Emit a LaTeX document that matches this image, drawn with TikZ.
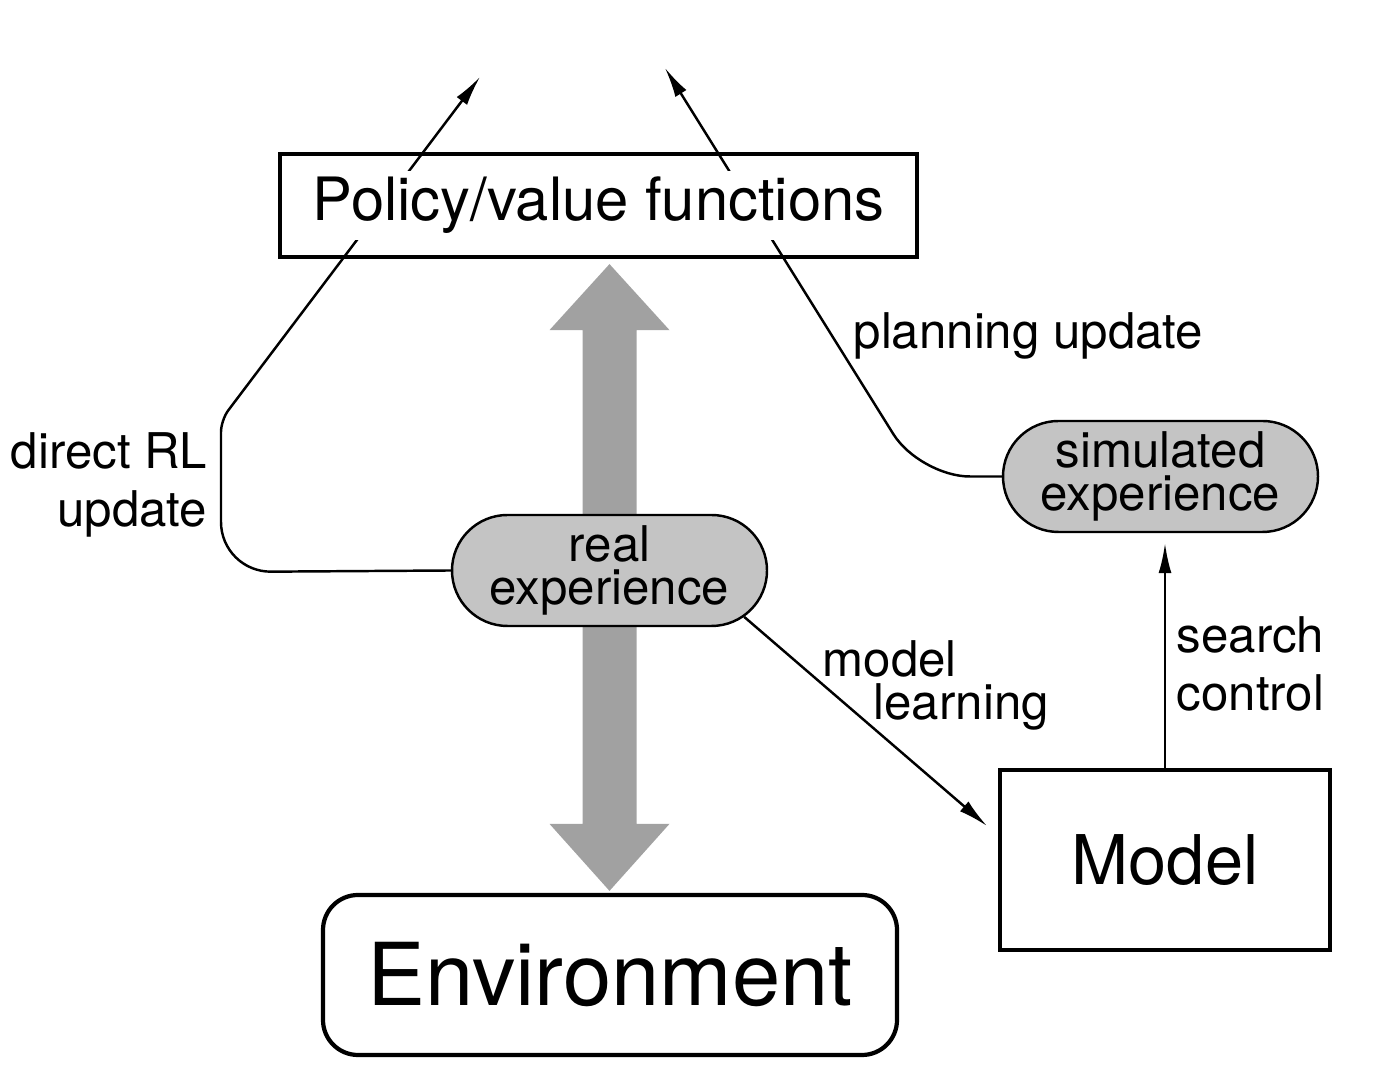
\documentclass[tikz,border=0pt]{standalone}
\usepackage{tikz}
\usepackage{fontspec}
\setmainfont{TeX Gyre Heros}
\usetikzlibrary{calc}
\usetikzlibrary{arrows.meta}
\usetikzlibrary{shapes.misc}
\colorlet{pillcol}{black!23}
\colorlet{bigcol}{black!37}
\pgfdeclarelayer{bg}
\pgfsetlayers{bg,main}
\newcommand{\labelfont}{\fontsize{14}{16.5}\selectfont}
\newcommand{\pillfont}{\fontsize{14}{12}\selectfont}

\begin{document}
\begin{tikzpicture}
\tikzstyle{frame}=[draw, line width=1.2pt, inner sep=0pt]
\tikzstyle{pill}=[rounded rectangle, draw, line width=0.7pt, fill=pillcol, minimum width=3.15cm, minimum height=1.11cm, inner sep=0pt, align=center, font=\pillfont]
\tikzstyle{lbl}=[inner sep=0pt, font=\labelfont]
\tikzstyle{arrow}=[line width=0.7pt, -{Latex[length=3mm, width=1.3mm]}]
\tikzstyle{link}=[line width=0.7pt, rounded corners=0.5cm]

\useasboundingbox (0,0) rectangle (13.8,10.92);

% boxes
\node[fill=white, inner xsep=0.05cm, inner ysep=0.06cm, font=\fontsize{17}{20}\selectfont] (pv) at (5.985,8.865) {Policy/value functions};
\node[frame, minimum width=6.37cm, minimum height=1.03cm] (pvbox) at (pv) {};
\node[frame, rounded corners=0.35cm, minimum width=5.74cm, minimum height=1.6cm, font=\fontsize{24.7}{28}\selectfont] (env) at (6.10,1.17) {Environment};
\node[frame, minimum width=3.3cm, minimum height=1.8cm, font=\fontsize{19.5}{23}\selectfont] (model) at (11.65,2.32) {Model};

% experience
\node[pill] (realexp) at (6.095,5.215) {real\\experience};
\node[pill] (simexp) at (11.605,6.155) {simulated\\experience};

% labels
\node[lbl, anchor=east, align=right] (drl) at (2.08,6.075) {direct RL\\update};
\node[lbl, anchor=west] (plan) at (8.53,7.56) {planning update};
\node[lbl, anchor=west, align=left, font=\fontsize{14}{12.2}\selectfont] (mlearn) at (8.22,4.065) {model\\\hspace*{0.51cm}learning};
\node[lbl, anchor=west, align=left] (search) at (11.76,4.285) {search\\control};

\coordinate (drtip) at (4.80,10.15);
\coordinate (putip) at (6.65,10.24);
\coordinate (mltip) at (9.87,2.66);

\begin{pgfonlayer}{bg}
% big two-headed arrow
\coordinate (up) at ($(realexp |- pvbox.south)+(0,-0.05)$);
\coordinate (dn) at ($(realexp |- env.north)+(0,0.02)$);
\fill[bigcol] (up) -- ++(0.6,-0.66) -- ++(-0.33,0) -- ($(dn)+(0.27,0.67)$) -- ++(0.33,0) -- (dn)
  -- ++(-0.6,0.67) -- ++(0.33,0) -- ($(up)+(-0.27,-0.66)$) -- ++(-0.33,0) -- cycle;

% updates
\draw[arrow, link] (realexp.west) -- (2.21,5.20) [rounded corners=0.12cm] -- (2.21,6.72) -- (drtip);
\draw[arrow, link] (simexp.west) -- ++(-0.82,0) -- (putip);
\draw[arrow] (realexp.-19) -- (mltip);
\draw[arrow, shorten >=0.1cm] (model.north) -- (model.north |- simexp.south);
\end{pgfonlayer}
\end{tikzpicture}
\end{document}
